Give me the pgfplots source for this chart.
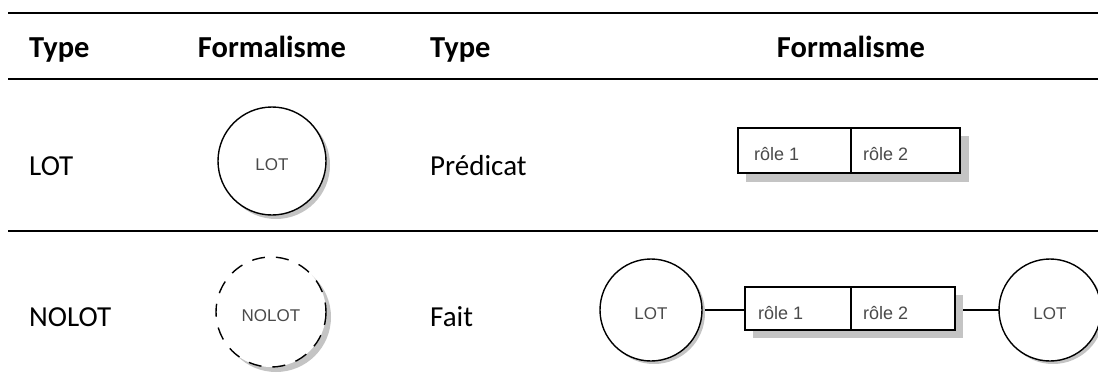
\documentclass[border=0pt]{standalone}
\usepackage{pgfplots}
\pgfplotsset{compat=1.18}
\usepackage{fontspec}
\setmainfont{Carlito}
\newfontfamily\arialf{Liberation Sans}
\definecolor{shadowgray}{HTML}{C4C4C4}
\definecolor{dtext}{HTML}{4A4A4A}
\begin{document}
\begin{tikzpicture}
\useasboundingbox (0,0) rectangle (1098pt,378pt);
\begin{axis}[
  scale only axis, width=1098pt, height=378pt,
  xmin=0, xmax=1098, ymin=0, ymax=378, y dir=reverse,
  hide axis, clip=false,
]
% rules
\addplot[black, line width=2.2pt, forget plot] coordinates {(8,13) (1098,13)};
\addplot[black, line width=1.6pt, forget plot] coordinates {(8,79) (1098,79)};
\addplot[black, line width=1.8pt, forget plot] coordinates {(8,231) (1098,231)};
% header
\node[anchor=base west, inner sep=0pt, font=\fontsize{30.5}{33}\selectfont\bfseries] at (axis cs:29,57) {Type};
\node[anchor=base, inner sep=0pt, font=\fontsize{30.5}{33}\selectfont\bfseries] at (axis cs:272,57) {Formalisme};
\node[anchor=base west, inner sep=0pt, font=\fontsize{30.5}{33}\selectfont\bfseries] at (axis cs:430,57) {Type};
\node[anchor=base, inner sep=0pt, font=\fontsize{30.5}{33}\selectfont\bfseries] at (axis cs:851,57) {Formalisme};
% row labels
\node[anchor=base west, inner sep=0pt, font=\fontsize{29}{32}\selectfont] at (axis cs:29,175) {LOT};
\node[anchor=base west, inner sep=0pt, font=\fontsize{29}{32}\selectfont] at (axis cs:430,175) {Prédicat};
\node[anchor=base west, inner sep=0pt, font=\fontsize{29}{32}\selectfont] at (axis cs:29,326) {NOLOT};
\node[anchor=base west, inner sep=0pt, font=\fontsize{29}{32}\selectfont] at (axis cs:430,326) {Fait};
% LOT circle
\fill[shadowgray] (axis cs:276,165) circle[radius=54];
\draw[black, line width=1.4pt, fill=white] (axis cs:272,161) circle[radius=54];
\node[anchor=base, inner sep=0pt, font=\arialf\fontsize{17}{19}\selectfont, text=dtext] at (axis cs:272,170) {LOT};
% NOLOT circle
\fill[shadowgray] (axis cs:276,317) circle[radius=55];
\draw[black, line width=1.4pt, fill=white, dash pattern=on 13pt off 11pt] (axis cs:271,312) circle[radius=55];
\node[anchor=base, inner sep=0pt, font=\arialf\fontsize{17}{19}\selectfont, text=dtext] at (axis cs:271,321) {NOLOT};
% Predicat box
\fill[shadowgray] (axis cs:746,136) rectangle (axis cs:969,182);
\draw[black, line width=1.6pt, fill=white] (axis cs:738,128) rectangle (axis cs:960,173);
\draw[black, line width=1.6pt] (axis cs:851,128) -- (axis cs:851,173);
\node[anchor=base west, inner sep=0pt, font=\arialf\fontsize{18}{20}\selectfont, text=dtext] at (axis cs:754,160) {rôle 1};
\node[anchor=base west, inner sep=0pt, font=\arialf\fontsize{18}{20}\selectfont, text=dtext] at (axis cs:863,160) {rôle 2};
% Fait diagram
\addplot[black, line width=1.4pt, forget plot] coordinates {(702,310) (745,310)};
\addplot[black, line width=1.4pt, forget plot] coordinates {(955,310) (1000,310)};
\fill[shadowgray] (axis cs:654,313) circle[radius=51];
\draw[black, line width=1.4pt, fill=white] (axis cs:651,310) circle[radius=51];
\node[anchor=base, inner sep=0pt, font=\arialf\fontsize{17}{19}\selectfont, text=dtext] at (axis cs:651,319) {LOT};
\fill[shadowgray] (axis cs:1053,313) circle[radius=51];
\draw[black, line width=1.4pt, fill=white] (axis cs:1050,310) circle[radius=51];
\node[anchor=base, inner sep=0pt, font=\arialf\fontsize{17}{19}\selectfont, text=dtext] at (axis cs:1050,319) {LOT};
\fill[shadowgray] (axis cs:753,295) rectangle (axis cs:963,338);
\draw[black, line width=1.6pt, fill=white] (axis cs:745,287) rectangle (axis cs:955,330);
\draw[black, line width=1.6pt] (axis cs:851,287) -- (axis cs:851,330);
\node[anchor=base west, inner sep=0pt, font=\arialf\fontsize{18}{20}\selectfont, text=dtext] at (axis cs:758,319) {rôle 1};
\node[anchor=base west, inner sep=0pt, font=\arialf\fontsize{18}{20}\selectfont, text=dtext] at (axis cs:863,319) {rôle 2};
\end{axis}
\end{tikzpicture}
\end{document}
